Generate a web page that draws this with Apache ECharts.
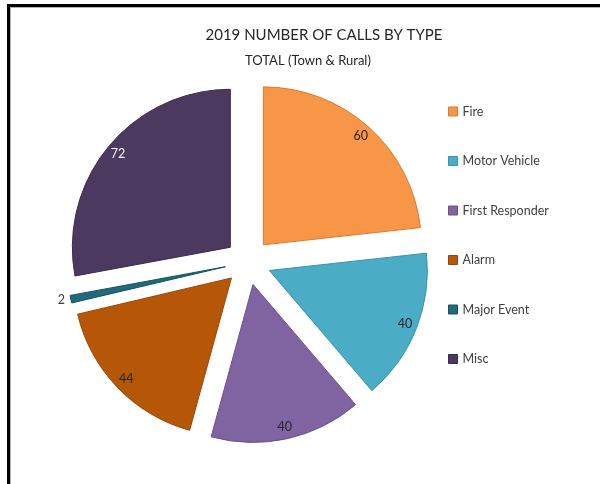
<!DOCTYPE html>
<html>
<head>
<meta charset="utf-8">
<title>2019 Number of Calls by Type</title>
<script src="https://cdn.jsdelivr.net/npm/echarts@6/dist/echarts.min.js"></script>
<style>
  html, body { margin: 0; padding: 0; background: #fff; }
  #chart { width: 600px; height: 484px; }
</style>
</head>
<body>
<div id="chart"></div>
<script>
const categories = ['Fire', 'Motor Vehicle', 'First Responder', 'Alarm', 'Major Event', 'Misc']
const calls = [60, 40, 40, 44, 2, 72]
const colors = ['#F79646', '#4BACC6', '#8064A2', '#B65708', '#1F6B7A', '#4B3960']
const borders = ['#D97A2E', '#3A93AB', '#6A5088', '#96460A', '#16525E', '#3A2B4C']
const labelColors = ['#262626', '#262626', '#262626', '#262626', '#404040', '#F2F2F2']

const FONT = 'Lato, "Open Sans", sans-serif'
const center = [248, 262]
const radius = 158
const explode = 23

const chart = echarts.init(document.getElementById('chart'))

const sliceData = categories.map((name, i) => ({
  name,
  value: calls[i],
  selected: true,
  itemStyle: { color: colors[i], borderColor: borders[i], borderWidth: 1 }
}))

// transparent ring on top, only used to place labels near the outer edge
const labelData = categories.map((name, i) => ({
  name,
  value: calls[i],
  selected: true,
  label: name === 'Major Event'
    ? { position: 'outside', color: labelColors[i] }
    : { position: 'inside', color: labelColors[i] }
}))

const option = {
  backgroundColor: '#fff',
  animation: false,
  graphic: [
    { type: 'rect', shape: { x: 7, y: 4, width: 3, height: 480 }, style: { fill: '#000' } },
    { type: 'rect', shape: { x: 7, y: 4, width: 593, height: 3 }, style: { fill: '#000' } },
    { type: 'rect', shape: { x: 10, y: 7, width: 1, height: 477 }, style: { fill: '#b0b0b0' } },
    { type: 'rect', shape: { x: 10, y: 7, width: 590, height: 1 }, style: { fill: '#b0b0b0' } },
    {
      type: 'text', x: 324, y: 35,
      style: { text: '2019 NUMBER OF CALLS BY TYPE', fill: '#262626', font: '15px ' + FONT, align: 'center', verticalAlign: 'middle' }
    },
    {
      type: 'text', x: 308, y: 61,
      style: { text: 'TOTAL (Town & Rural)', fill: '#262626', font: '13px ' + FONT, align: 'center', verticalAlign: 'middle' }
    }
  ],
  legend: {
    orient: 'vertical',
    left: 448,
    top: 105,
    padding: 0,
    itemWidth: 9,
    itemHeight: 9,
    itemGap: 36.5,
    icon: 'rect',
    selectedMode: false,
    textStyle: { fontFamily: FONT, fontSize: 12.5, color: '#404040', lineHeight: 13 },
    data: categories.map((name, i) => ({
      name,
      itemStyle: { color: colors[i], borderColor: borders[i], borderWidth: 1 }
    }))
  },
  series: [
    {
      type: 'pie',
      center,
      radius: [0, radius],
      startAngle: 90,
      clockwise: true,
      selectedMode: 'multiple',
      selectedOffset: explode,
      label: { show: false },
      labelLine: { show: false },
      emphasis: { scale: false, disabled: true },
      data: sliceData
    },
    {
      type: 'pie',
      center,
      radius: [radius - 30, radius],
      startAngle: 90,
      clockwise: true,
      silent: true,
      selectedMode: 'multiple',
      selectedOffset: explode,
      itemStyle: { color: 'rgba(0,0,0,0)', borderWidth: 0 },
      label: { show: true, formatter: '{c}', rotate: 0, fontFamily: FONT, fontSize: 12.5, distanceToLabelLine: 3 },
      labelLine: { show: false, length: 3, length2: 0 },
      emphasis: { disabled: true },
      data: labelData
    }
  ]
}

chart.setOption(option)
</script>
</body>
</html>
